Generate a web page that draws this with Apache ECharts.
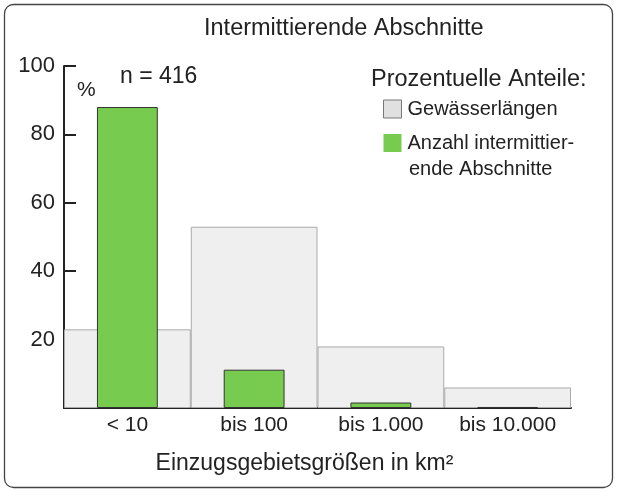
<!DOCTYPE html>
<html>
<head>
<meta charset="utf-8">
<script src="https://cdn.jsdelivr.net/npm/echarts@6/dist/echarts.min.js"></script>
<style>
  html, body { margin: 0; padding: 0; background: #fff; }
  #chart { width: 617px; height: 492px; }
</style>
</head>
<body>
<div id="chart"></div>
<script>
// Einzugsgebietsgrößen (Kategorien)
var categories = ["< 10", "bis 100", "bis 1.000", "bis 10.000"];
// Prozentuelle Anteile
var gewaesserLaengen = [23, 53, 18, 6];
var intermittierend = [88, 11.2, 1.6, 0.3];
var yTicks = [0, 20, 40, 60, 80, 100];

var font = "Liberation Sans, Arial, sans-serif";
var textColor = "#222";
var greenName = "Anzahl intermittierende Abschnitte";

var chart = echarts.init(document.getElementById("chart"));
chart.setOption({
  animation: false,
  textStyle: { fontFamily: font, color: textColor },
  title: {
    text: "Intermittierende Abschnitte",
    left: 204,
    top: 17,
    padding: 0,
    textStyle: { fontFamily: font, fontSize: 23.5, fontWeight: "normal", color: textColor }
  },
  legend: {
    orient: "vertical",
    left: 383,
    top: 99,
    padding: 0,
    icon: "rect",
    itemWidth: 18,
    itemHeight: 18,
    itemGap: 14,
    selectedMode: false,
    textStyle: { fontFamily: font, fontSize: 20, color: textColor, padding: [0, 0, 0, 1] },
    formatter: function (name) {
      return name === greenName ? "Anzahl intermittier-" : name;
    },
    data: [
      { name: "Gewässerlängen", itemStyle: { color: "#e0e0e0", borderColor: "#777", borderWidth: 1 } },
      { name: greenName, itemStyle: { color: "#77cc4f", borderWidth: 0 } }
    ]
  },
  grid: { left: 64, right: 46, top: 66, bottom: 84 },
  xAxis: [
    {
      type: "category",
      data: categories,
      axisLine: { lineStyle: { color: "#222", width: 2 } },
      axisTick: { inside: true, length: 9, lineStyle: { color: "#222", width: 2 } },
      axisLabel: { fontFamily: font, fontSize: 21, color: textColor, margin: 7 },
      name: "Einzugsgebietsgrößen in km²",
      nameLocation: "middle",
      nameGap: 44,
      nameTextStyle: { fontFamily: font, fontSize: 23, color: textColor, padding: [0, 26, 0, 0] }
    },
    { type: "category", data: categories, show: false }
  ],
  yAxis: {
    type: "value",
    min: yTicks[0],
    max: yTicks[yTicks.length - 1],
    interval: 20,
    splitLine: { show: false },
    axisLine: { show: true, lineStyle: { color: "#222", width: 2 } },
    axisTick: { show: true, inside: true, length: 12, lineStyle: { color: "#222", width: 2 } },
    axisLabel: {
      fontFamily: font, fontSize: 22, color: textColor, margin: 9,
      formatter: function (v) { return v === 0 ? "" : String(v); }
    }
  },
  graphic: [
    {
      type: "rect",
      shape: { x: 4.5, y: 4.5, width: 608, height: 483, r: 9 },
      style: { fill: "none", stroke: "#444", lineWidth: 1.3 },
      silent: true
    },
    {
      type: "text", left: 77, top: 80,
      style: { text: "%", font: "21px " + font, fill: textColor }
    },
    {
      type: "text", left: 120, top: 65,
      style: { text: "n = 416", font: "23px " + font, fill: textColor }
    },
    {
      type: "text", left: 371, top: 68,
      style: { text: "Prozentuelle Anteile:", font: "23.5px " + font, fill: textColor }
    },
    {
      type: "text", left: 409, top: 159,
      style: { text: "ende Abschnitte", font: "20px " + font, fill: textColor }
    }
  ],
  series: [
    {
      name: "Gewässerlängen",
      type: "bar",
      xAxisIndex: 0,
      data: gewaesserLaengen,
      barWidth: "100%",
      barCategoryGap: 0,
      itemStyle: { color: "#efefef", borderColor: "#aaa", borderWidth: 1 },
      z: 1
    },
    {
      name: greenName,
      type: "bar",
      xAxisIndex: 1,
      data: intermittierend,
      barWidth: "48%",
      itemStyle: { color: "#77cc4f", borderColor: "#333", borderWidth: 1 },
      z: 2
    }
  ]
});
</script>
</body>
</html>
